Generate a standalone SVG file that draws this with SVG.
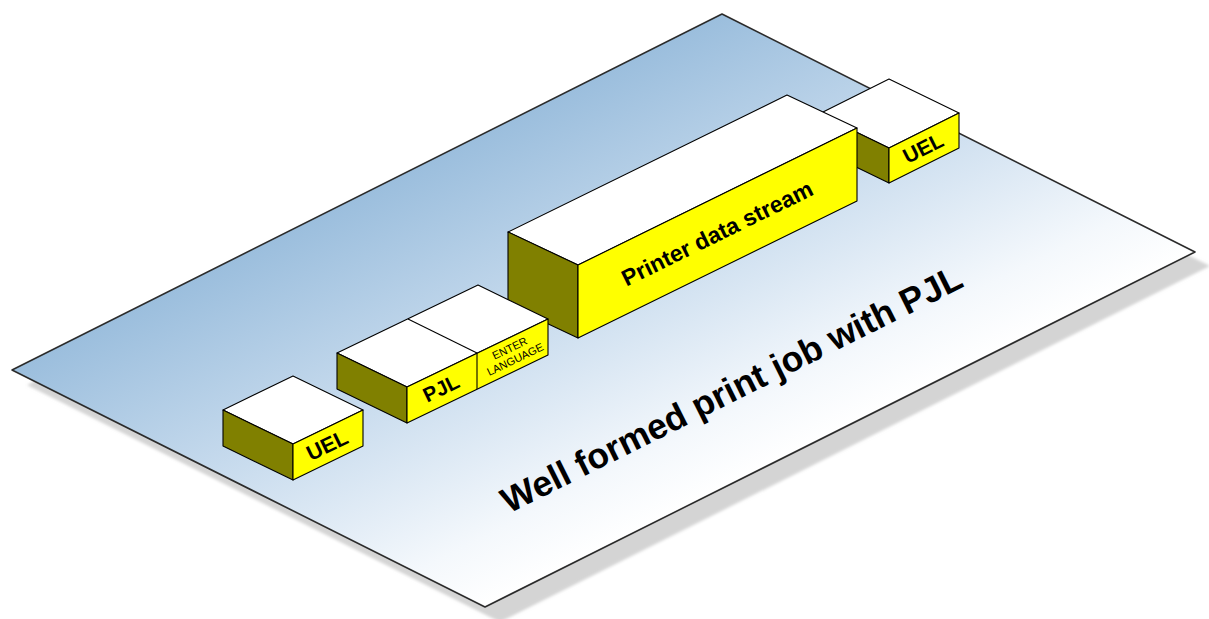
<svg xmlns="http://www.w3.org/2000/svg" width="1209" height="619" viewBox="0 0 1209 619">
  <defs>
    <!-- base plate: blue at the far edge fading to white at the near edge -->
    <linearGradient id="plateFill" gradientUnits="userSpaceOnUse" x1="150" y1="300" x2="340" y2="680">
      <stop offset="0" stop-color="#9bbedd"/>
      <stop offset="0.45" stop-color="#c9dcee"/>
      <stop offset="0.85" stop-color="#f4f8fc"/>
      <stop offset="1" stop-color="#ffffff"/>
    </linearGradient>
    <filter id="soft" x="-5%" y="-5%" width="110%" height="110%">
      <feGaussianBlur stdDeviation="1.6"/>
    </filter>
    <style>
      .plate { fill: url(#plateFill); stroke: #2b2b2b; stroke-width: 1.6; stroke-linejoin: round; }
      .plate-shadow { fill: #d4d4d4; }
      .top { fill: #ffffff; }
      .front { fill: #ffff00; }
      .side { fill: #808000; }
      .top, .front, .side, .edge { stroke: #000000; stroke-width: 1.1; stroke-linejoin: round; }
      .edge { fill: none; }
      .label { font-family: "Liberation Sans", Arial, sans-serif; font-weight: bold; fill: #000000; text-anchor: middle; }
      .small { font-family: "Liberation Sans", Arial, sans-serif; font-weight: normal; fill: #000000; text-anchor: middle; font-size: 11px; }
    </style>
  </defs>

  <!-- base plate with drop shadow -->
  <g id="plate">
    <polygon class="plate-shadow" filter="url(#soft)" points="27,385 737,29 1210,266 500,622"/>
    <polygon class="plate" points="12,370 722,14 1195,252 485,607"/>
  </g>

  <!-- closing UEL block (sits behind the data stream block) -->
  <g id="box-uel-end">
    <polygon class="top" points="819,114 889,79 959,113 889,148"/>
    <polygon class="side" points="819,114 889,148 889,183 819,149"/>
    <polygon class="front" points="889,148 959,113 959,148 889,183"/>
    <text class="label" font-size="21" transform="translate(923,148) rotate(-26.6)" y="7.5">UEL</text>
  </g>

  <!-- printer data stream block -->
  <g id="box-printer-data">
    <polygon class="top" points="508,232 787,95 857,128 578,265"/>
    <polygon class="side" points="508,232 578,265 578,338 508,305"/>
    <polygon class="front" points="578,265 857,128 857,201 578,338"/>
    <text class="label" font-size="23" transform="translate(717,233) rotate(-26.15)" y="8.3">Printer data stream</text>
  </g>

  <!-- PJL block with the ENTER LANGUAGE segment -->
  <g id="box-pjl">
    <polygon class="top" points="337,353 478,285 548,319 407,387"/>
    <polygon class="side" points="337,353 407,387 407,423 337,389"/>
    <polygon class="front" points="407,387 548,319 548,355 407,423"/>
    <line class="edge" x1="408" y1="319" x2="477" y2="353"/>
    <line class="edge" x1="477" y1="353" x2="477" y2="389"/>
    <text class="label" font-size="20.5" transform="translate(441,388) rotate(-25.75)" y="7.4">PJL</text>
    <g transform="translate(512.5,354) rotate(-25.75)">
      <text class="small" y="-2.5">ENTER</text>
      <text class="small" y="9.8">LANGUAGE</text>
    </g>
  </g>

  <!-- opening UEL block -->
  <g id="box-uel-start">
    <polygon class="top" points="223,410 293,376 363,410 293,444"/>
    <polygon class="side" points="223,410 293,444 293,480 223,446"/>
    <polygon class="front" points="293,444 363,410 363,446 293,480"/>
    <text class="label" font-size="21.5" transform="translate(327,445) rotate(-25.9)" y="7.7">UEL</text>
  </g>

  <!-- caption printed on the plate -->
  <g id="caption">
    <text class="label" font-size="35.5" transform="translate(737,400) rotate(-26.5)">Well formed print job with PJL</text>
  </g>
</svg>
